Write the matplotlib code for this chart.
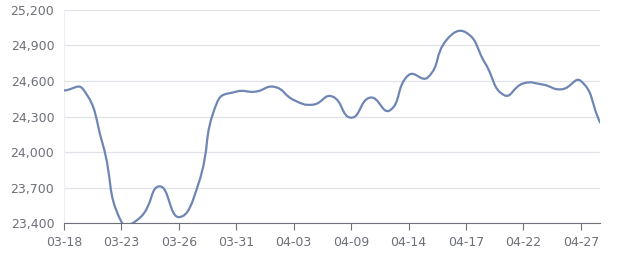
import matplotlib
matplotlib.use("Agg")
import matplotlib.pyplot as plt
from matplotlib.path import Path
from matplotlib.patches import PathPatch
from matplotlib.ticker import FuncFormatter, MultipleLocator
import numpy as np

dates = ["03-18", "03-19", "03-20", "03-23", "03-24", "03-25", "03-26", "03-27",
         "03-30", "03-31", "04-01", "04-02", "04-03", "04-07", "04-08", "04-09",
         "04-10", "04-13", "04-14", "04-15", "04-16", "04-17", "04-20", "04-21",
         "04-22", "04-23", "04-24", "04-27", "04-28"]
prices = [24520, 24530, 24080, 23410, 23450, 23710, 23450, 23720, 24420, 24510,
          24510, 24550, 24440, 24400, 24470, 24290, 24460, 24350, 24650, 24630,
          24950, 25010, 24750, 24480, 24580, 24570, 24530, 24600, 24250]


def smooth_path(xs, ys, sx, sy, smooth=0.5):
    # echarts-like bezier smoothing, distances measured in pixel units
    px = np.asarray(xs, float) * sx
    py = np.asarray(ys, float) * sy
    n = len(px)
    verts = [(xs[0], ys[0])]
    codes = [Path.MOVETO]
    cps_in = [None] * n
    cps_out = [None] * n
    for i in range(n):
        prev = max(i - 1, 0)
        nxt = min(i + 1, n - 1)
        vx = px[nxt] - px[prev]
        vy = py[nxt] - py[prev]
        d0 = np.hypot(px[i] - px[prev], py[i] - py[prev])
        d1 = np.hypot(px[nxt] - px[i], py[nxt] - py[i])
        tot = d0 + d1 if d0 + d1 > 0 else 1
        r = d1 / tot
        cps_in[i] = (px[i] - vx * smooth * (1 - r), py[i] - vy * smooth * (1 - r))
        cps_out[i] = (px[i] + vx * smooth * r, py[i] + vy * smooth * r)
    for i in range(1, n):
        c1 = cps_out[i - 1]
        c2 = cps_in[i]
        verts += [(c1[0] / sx, c1[1] / sy), (c2[0] / sx, c2[1] / sy), (xs[i], ys[i])]
        codes += [Path.CURVE4] * 3
    return Path(verts, codes)


fig = plt.figure(figsize=(6.4, 2.7), dpi=100)
ax = fig.add_axes([0.1, 0.174, 0.8375, 0.789])

x = np.arange(len(dates))
path = smooth_path(x, prices, 19.14, 1 / 8.45)
ax.add_patch(PathPatch(path, facecolor="none", edgecolor="#6f86b4", lw=1.6,
                       capstyle="round", joinstyle="round", zorder=3))

ax.set_xlim(0, len(dates) - 1)
ax.set_ylim(23400, 25200)
ax.yaxis.set_major_locator(MultipleLocator(300))
ax.yaxis.set_major_formatter(FuncFormatter(lambda v, p: f"{int(v):,}"))
ax.set_xticks(x[::3])
ax.set_xticklabels(dates[::3])

ax.grid(axis="y", color="#e0e3ea", lw=0.9)
ax.set_axisbelow(True)
for s in ["top", "right"]:
    ax.spines[s].set_visible(False)
ax.spines["left"].set_color("#eeeeee")
ax.spines["bottom"].set_color("#6e7079")
ax.tick_params(axis="y", length=0, pad=7, labelsize=9, labelcolor="#6e7079")
ax.tick_params(axis="x", length=5, color="#6e7079", pad=4, labelsize=9,
               labelcolor="#6e7079")

fig.savefig("out.png", dpi=100)
